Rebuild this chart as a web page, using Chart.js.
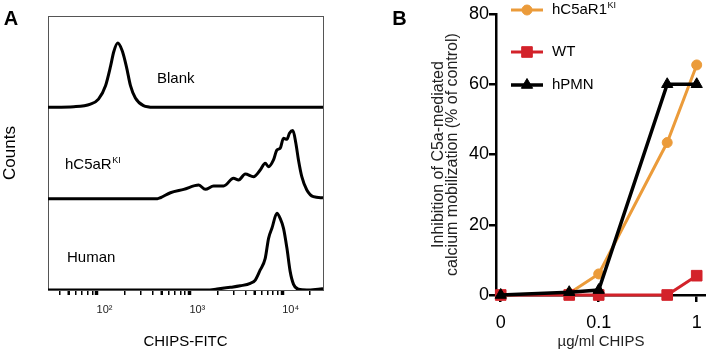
<!DOCTYPE html>
<html>
<head>
<meta charset="utf-8">
<script src="https://cdn.jsdelivr.net/npm/chart.js@4.4.0/dist/chart.umd.min.js"></script>
<style>
  html, body { margin: 0; padding: 0; background: #fff; }
  #wrap { position: relative; width: 706px; height: 354px; overflow: hidden; }
  .panel { position: absolute; top: 0; width: 353px; height: 354px; }
  #panelA { left: 0; }
  #panelB { left: 353px; }
</style>
</head>
<body>
<div id="wrap">
  <div class="panel" id="panelA"><canvas id="histChart" width="353" height="354"></canvas></div>
  <div class="panel" id="panelB"><canvas id="doseChart" width="353" height="354"></canvas></div>
</div>
<script>
// ---- Panel A: CHIPS-FITC staining histograms (counts as % of lane height) ----
const blankFitc   = [30, 57, 86, 105, 125, 142, 153, 169, 189, 210, 232, 262, 320, 410, 27500];
const blankCounts = [0, 0.7, 3.6, 9, 23.7, 45.6, 60.6, 70.4, 62, 44.4, 23.7, 10.2, 1.8, 0, 0];

const kiFitc   = [30, 453, 488, 625, 869, 1262, 1486, 1824, 2339, 2992, 3388, 4000, 4909, 5794, 6561,
                  7129, 8054, 8770, 9506, 10328, 11246, 11967, 13032, 14028, 14962, 16255, 18408, 21677, 27500];
const kiCounts = [0, 0, 1, 6.5, 10.2, 14.9, 10.2, 13.9, 13.9, 22.3, 20.5, 27, 24.1, 31.4, 38.7,
                  35, 42.4, 53.3, 55.2, 66.1, 65, 71.6, 74.5, 60.6, 42.4, 24.1, 9.5, 2.2, 1];

const humanFitc   = [30, 1549, 1986, 2761, 3532, 4529, 5129, 5794, 6561, 7129, 7745, 8770, 9506,
                     10328, 11246, 12190, 13243, 14962, 18450, 25645, 27500];
const humanCounts = [0, 0, 1.1, 2.9, 4.6, 7.3, 10.9, 21.9, 34.7, 56.6, 67.5, 83.9, 78.4,
                     67.5, 45.6, 20.1, 6.2, 0.8, 0, 1.1, 1.3];

const fitcTicks = [40, 50, 60, 70, 80, 90, 100, 200, 300, 400, 500, 600, 700, 800, 900,
                   1000, 2000, 3000, 4000, 5000, 6000, 7000, 8000, 9000, 10000, 20000];
const fitcTickLabels = { 100: '10²', 1000: '10³', 10000: '10⁴' };

// ---- Panel B: inhibition of C5a-mediated calcium mobilization ----
const chipsDose = [0, 0.05, 0.1, 0.5, 1];
const kiInhibition    = [0, 0.5, 6, 43.4, 65.5];
const wtInhibition    = [0, 0, 0, 0, 5.5];
const hpmnInhibition  = [0, 0.8, 1.4, 60, 60];
const doseTicks = [0, 0.1, 1];
const inhibitionTicks = [0, 20, 40, 60, 80];

const FONT = 'Arial, "Liberation Sans", Helvetica, sans-serif';
Chart.defaults.font.family = FONT;
Chart.defaults.color = '#000';

const ORANGE = '#EB9B3A';
const RED = '#D3222A';
const BLACK = '#000000';
const ZERO_DOSE_AT = 0.01; // the "0" dose is drawn one decade below 0.1

function toPoints(xs, ys, offset) {
    return xs.map((x, i) => ({ x: x === 0 ? ZERO_DOSE_AT : x, y: ys[i] + (offset || 0) }));
}

function drawText(ctx, text, sup, x, y, size, opts) {
    opts = opts || {};
    ctx.save();
    ctx.font = `${opts.bold ? 'bold ' : ''}${size}px ${FONT}`;
    ctx.fillStyle = opts.color || '#000';
    ctx.textBaseline = 'middle';
    ctx.textAlign = opts.align || 'left';
    ctx.fillText(text, x, y);
    if (sup) {
        const w = ctx.measureText(text).width;
        ctx.font = `${Math.round(size * 0.62)}px ${FONT}`;
        ctx.textAlign = 'left';
        ctx.fillText(sup, x + w + 0.5, y - size * 0.28);
    }
    ctx.restore();
}

// Labels inside panel A
const histLabels = {
    id: 'histLabels',
    afterDraw(chart) {
        const ctx = chart.ctx;
        drawText(ctx, 'A', null, 11, 19, 20, { bold: true, align: 'center' });
        drawText(ctx, 'Blank', null, 157, 79, 15);
        drawText(ctx, 'hC5aR', 'KI', 65, 165, 15);
        drawText(ctx, 'Human', null, 67, 258, 15);
    }
};

// Legend for panel B: line + marker + label, drawn from the dataset styles
const doseLegend = {
    id: 'doseLegend',
    afterDraw(chart) {
        const ctx = chart.ctx;
        drawText(ctx, 'B', null, 46.5, 19, 20, { bold: true, align: 'center' });
        const rows = [10, 52, 85];
        chart.data.datasets.forEach((ds, i) => {
            const y = rows[i];
            ctx.save();
            ctx.strokeStyle = ds.borderColor;
            ctx.lineWidth = ds.borderWidth;
            ctx.beginPath();
            ctx.moveTo(158, y);
            ctx.lineTo(190, y);
            ctx.stroke();
            ctx.fillStyle = ds.backgroundColor;
            ctx.lineWidth = 1;
            Chart.helpers.drawPoint(ctx, { pointStyle: ds.pointStyle, radius: ds.pointRadius, rotation: 0, borderWidth: 1 }, 174, y);
            ctx.restore();
            drawText(ctx, ds.label, ds.sup, 199, y, 15);
        });
    }
};

const histLine = { borderColor: BLACK, borderWidth: 3, pointRadius: 0, cubicInterpolationMode: 'monotone' };

new Chart(document.getElementById('histChart'), {
    type: 'line',
    data: {
        datasets: [
            { ...histLine, label: 'Blank', data: toPoints(blankFitc, blankCounts, 200) },
            { ...histLine, label: 'hC5aR KI', data: toPoints(kiFitc, kiCounts, 100) },
            { ...histLine, label: 'Human', data: toPoints(humanFitc, humanCounts, 0) }
        ]
    },
    options: {
        responsive: false,
        animation: false,
        layout: { autoPadding: false, padding: { top: 16, right: 30, left: 0, bottom: 0 } },
        plugins: { legend: { display: false }, tooltip: { enabled: false } },
        scales: {
            x: {
                type: 'logarithmic',
                position: 'bottom',
                min: 30,
                max: 27500,
                afterBuildTicks: s => { s.ticks = fitcTicks.map(v => ({ value: v })); },
                afterFit: s => { s.height = 64; s.paddingLeft = 0; s.paddingRight = 0; },
                ticks: {
                    autoSkip: false,
                    maxRotation: 0,
                    align: 'start',
                    padding: 8,
                    font: { size: 11 },
                    color: '#222',
                    callback: v => fitcTickLabels[v] || ''
                },
                grid: {
                    drawOnChartArea: false,
                    tickLength: 5,
                    tickColor: '#000',
                    lineWidth: c => (fitcTickLabels[c.tick && c.tick.value] ? 3 : 1.5),
                    tickWidth: c => {
                        const v = c.tick && c.tick.value;
                        if (fitcTickLabels[v]) return 3.5;
                        return String(v)[0] === '5' ? 2.5 : 1.5;
                    }
                },
                border: { color: '#555', width: 1 },
                title: { display: true, text: 'CHIPS-FITC', font: { size: 15 }, padding: { bottom: 3 } }
            },
            xTop: {
                type: 'linear',
                position: 'top',
                afterFit: s => { s.height = 0; s.paddingLeft = 0; s.paddingRight = 0; },
                ticks: { display: false },
                grid: { drawOnChartArea: false, drawTicks: false },
                border: { color: '#555', width: 1 }
            },
            y: {
                type: 'linear',
                min: 0,
                max: 300,
                afterFit: s => { s.width = 48; s.paddingTop = 0; s.paddingBottom = 0; },
                ticks: { display: false },
                grid: { drawOnChartArea: false, drawTicks: false },
                border: { color: '#555', width: 1 },
                title: { display: true, text: 'Counts', font: { size: 17 }, padding: { top: 0 } }
            },
            yRight: {
                type: 'linear',
                position: 'right',
                afterFit: s => { s.width = 0; s.paddingTop = 0; s.paddingBottom = 0; },
                ticks: { display: false },
                grid: { drawOnChartArea: false, drawTicks: false },
                border: { color: '#555', width: 1 }
            }
        }
    },
    plugins: [histLabels]
});

const doseLine = { borderWidth: 3, tension: 0, clip: false, pointBorderWidth: 1 };

new Chart(document.getElementById('doseChart'), {
    type: 'line',
    data: {
        datasets: [
            { ...doseLine, label: 'hC5aR1', sup: 'KI', data: toPoints(chipsDose, kiInhibition),
              borderColor: ORANGE, backgroundColor: ORANGE, pointStyle: 'circle', pointRadius: 5, order: 3 },
            { ...doseLine, label: 'WT', data: toPoints(chipsDose, wtInhibition),
              borderColor: RED, backgroundColor: RED, pointStyle: 'rect', pointRadius: 7.5, order: 2 },
            { ...doseLine, label: 'hPMN', data: toPoints(chipsDose, hpmnInhibition), borderWidth: 3.5,
              borderColor: BLACK, backgroundColor: BLACK, pointStyle: 'triangle', pointRadius: 6.5, order: 1 }
        ]
    },
    options: {
        responsive: false,
        animation: false,
        layout: { autoPadding: false, padding: { top: 14, right: 0, left: 0, bottom: 0 } },
        plugins: { legend: { display: false }, tooltip: { enabled: false } },
        scales: {
            x: {
                type: 'logarithmic',
                min: 0.00895,
                max: 1.244,
                afterBuildTicks: s => { s.ticks = doseTicks.map(v => ({ value: v === 0 ? ZERO_DOSE_AT : v })); },
                afterFit: s => { s.height = 59; s.paddingLeft = 0; s.paddingRight = 0; },
                ticks: {
                    autoSkip: false,
                    maxRotation: 0,
                    padding: 10,
                    font: { size: 18 },
                    callback: v => (v === ZERO_DOSE_AT ? '0' : String(v))
                },
                grid: { drawOnChartArea: false, tickLength: 7, tickWidth: 2.5, lineWidth: 2.5, tickColor: '#000' },
                border: { color: '#000', width: 2.5 },
                title: { display: true, text: 'µg/ml CHIPS', font: { size: 15 }, color: '#222', padding: { bottom: 3 } }
            },
            y: {
                min: 0,
                max: 80,
                afterBuildTicks: s => { s.ticks = inhibitionTicks.map(v => ({ value: v })); },
                afterFit: s => { s.width = 143; s.paddingTop = 0; s.paddingBottom = 0; },
                ticks: { padding: 0, font: { size: 18 } },
                grid: { drawOnChartArea: false, tickLength: 7, tickWidth: 2.5, lineWidth: 2.5, tickColor: '#000' },
                border: { color: '#000', width: 2.5 },
                title: {
                    display: true,
                    text: ['Inhibition of C5a-mediated', 'calcium mobilization (% of control)'],
                    font: { size: 16, lineHeight: 0.85 },
                    color: '#222',
                    padding: { top: 79 }
                }
            }
        }
    },
    plugins: [doseLegend]
});
</script>
</body>
</html>
